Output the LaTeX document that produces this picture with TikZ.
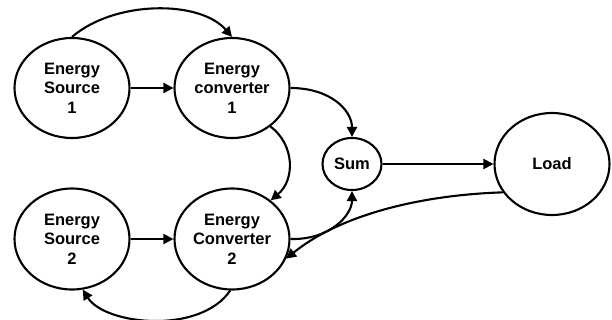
\documentclass[tikz,border=0pt]{standalone}
\usepackage{fontspec}
\setmainfont{Liberation Sans}
\usetikzlibrary{arrows.meta,shapes.geometric}
\begin{document}
\begin{tikzpicture}[x=1pt,y=-1pt,
  blk/.style={draw,line width=2.1pt,ellipse,align=center,inner sep=0pt,
    font=\fontsize{16.5}{19.5}\selectfont\bfseries},
  conn/.style={line width=2.1pt,-{Triangle[length=10pt,width=10pt]}}]
\useasboundingbox (0,0) rectangle (612,320);
\node[blk, minimum width=115pt, minimum height=100pt] (es1) at (72,88) {Energy\\Source\\1};
\node[blk, minimum width=115pt, minimum height=100pt] (ec1) at (232,88) {Energy\\converter\\1};
\node[blk, minimum width=115pt, minimum height=101pt] (es2) at (72,239) {Energy\\Source\\2};
\node[blk, minimum width=115pt, minimum height=101pt] (ec2) at (232,239) {Energy\\Converter\\2};
\node[blk, minimum width=59pt, minimum height=52pt] (sum) at (352,164) {Sum};
\node[blk, minimum width=115pt, minimum height=102pt] (load) at (552,164) {Load};
\draw[conn] (es1) -- (ec1);
\draw[conn] (es2) -- (ec2);
\draw[conn] (sum) -- (load);
\draw[conn] (es1.north) .. controls (115,0) and (200,0) .. (ec1.north);
\draw[conn] (ec1.east) .. controls (330,88) and (352,110) .. (sum.north);
\draw[conn] (ec1.-45) .. controls (295,145) and (295,180) .. (ec2.45);
\draw[conn] (ec2.east) .. controls (330,240) and (352,215) .. (sum.south);
\draw[conn] (load.-150) .. controls (420,195) and (340,215) .. (ec2.-20);
\draw[conn] (ec2.-92) .. controls (200,335) and (105,325) .. (es2.-78);
\end{tikzpicture}
\end{document}
